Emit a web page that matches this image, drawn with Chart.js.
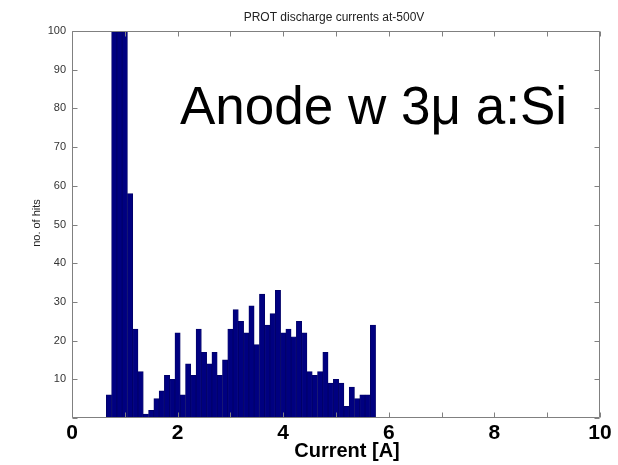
<!DOCTYPE html>
<html><head><meta charset="utf-8">
<script src="https://cdn.jsdelivr.net/npm/chart.js@4.4.1/dist/chart.umd.min.js"></script>
<style>html,body{margin:0;padding:0;background:#fff;}#wrap{width:618px;height:465px;}</style>
</head><body><div id="wrap"><canvas id="c" width="618" height="465"></canvas></div>
<script>
// Histogram bin centres (A)
const binCenters = [0.7,0.8,0.9,1.0,1.1,1.2,1.3,1.4,1.5,1.6,1.7,1.8,1.9,2.0,2.1,2.2,2.3,2.4,2.5,2.6,2.7,2.8,2.9,3.0,3.1,3.2,3.3,3.4,3.5,3.6,3.7,3.8,3.9,4.0,4.1,4.2,4.3,4.4,4.5,4.6,4.7,4.8,4.9,5.0,5.1,5.2,5.3,5.4,5.5,5.6,5.7];
// Counts per bin (no. of hits); bins at 0.8-1.0 are clipped at the top of the axis
const hits = [6,100,100,100,58,23,12,1,2,5,7,11,10,22,6,14,11,23,17,14,17,11,15,23,28,25,22,29,19,32,24,27,33,22,23,21,25,22,12,11,12,17,9,10,9,3,8,5,6,6,24];
const xLabelled = [0,2,4,6,8,10];
const yLabelled = [10,20,30,40,50,60,70,80,90,100];
const chartTitle = 'PROT discharge currents at-500V';
const xTitle = 'Current [A]';
const yTitle = 'no. of hits';
const annotationText = 'Anode w 3\u03bc a:Si';

const FONT = "'Liberation Sans', Arial, sans-serif";

const decor = {
  id: 'decor',
  afterDatasetsDraw(chart) {
    const {ctx, chartArea: a, scales: {x, y}} = chart;
    ctx.save();
    ctx.strokeStyle = '#808080';
    ctx.lineWidth = 1;
    const L = Math.round(a.left) + 0.5, R = Math.round(a.right) - 0.5;
    const T = Math.round(a.top) + 0.5, B = Math.round(a.bottom) - 0.5;
    ctx.beginPath();
    ctx.rect(L, T, R - L, B - T);
    x.ticks.forEach(t => {
      const px = Math.round(x.getPixelForValue(t.value)) + 0.5;
      ctx.moveTo(px, B); ctx.lineTo(px, B - 5);
      ctx.moveTo(px, T); ctx.lineTo(px, T + 5);
    });
    y.ticks.forEach(t => {
      const py = Math.round(y.getPixelForValue(t.value)) + 0.5;
      ctx.moveTo(L, py); ctx.lineTo(L + 5, py);
      ctx.moveTo(R, py); ctx.lineTo(R - 5, py);
    });
    ctx.stroke();

    // chart title
    ctx.fillStyle = '#222';
    ctx.font = '12px ' + FONT;
    ctx.textAlign = 'center';
    ctx.textBaseline = 'middle';
    ctx.fillText(chartTitle, 334, 18);

    // y title
    ctx.save();
    ctx.translate(37, 223);
    ctx.rotate(-Math.PI / 2);
    ctx.font = '11px ' + FONT;
    ctx.fillText(yTitle, 0, 0);
    ctx.restore();

    // x title
    ctx.fillStyle = '#000';
    ctx.font = 'bold 20px ' + FONT;
    ctx.fillText(xTitle, 347, 451);

    // annotation
    ctx.font = '53px ' + FONT;
    ctx.textAlign = 'left';
    ctx.textBaseline = 'alphabetic';
    ctx.fillText(annotationText, 180, 124);
    ctx.restore();
  }
};

new Chart(document.getElementById('c'), {
  type: 'bar',
  data: {
    datasets: [{
      data: binCenters.map((c, i) => ({x: c, y: hits[i]})),
      backgroundColor: '#000080',
      borderColor: '#000066',
      borderWidth: 0.8,
      barPercentage: 1,
      categoryPercentage: 1
    }]
  },
  options: {
    responsive: false,
    animation: false,
    devicePixelRatio: 1,
    layout: {padding: {top: 31, right: 18, left: 0, bottom: 0}},
    plugins: {legend: {display: false}, tooltip: {enabled: false}, title: {display: false}},
    scales: {
      x: {
        type: 'linear', min: 0, max: 10, offset: false,
        grid: {display: false, drawTicks: false, offset: false},
        border: {display: false},
        ticks: {
          stepSize: 1, autoSkip: false, maxRotation: 0, padding: 3,
          color: '#000',
          font: {family: FONT, size: 21, weight: 'bold'},
          callback: v => xLabelled.includes(v) ? String(v) : ''
        },
        afterFit: s => { s.height = 47; }
      },
      y: {
        min: 0, max: 100,
        grid: {display: false, drawTicks: false},
        border: {display: false},
        ticks: {
          stepSize: 10, padding: 6, color: '#333',
          font: {family: FONT, size: 11},
          callback: v => yLabelled.includes(v) ? String(v) : ''
        },
        afterFit: s => { s.width = 72; }
      }
    }
  },
  plugins: [decor]
});
</script>
</body></html>
